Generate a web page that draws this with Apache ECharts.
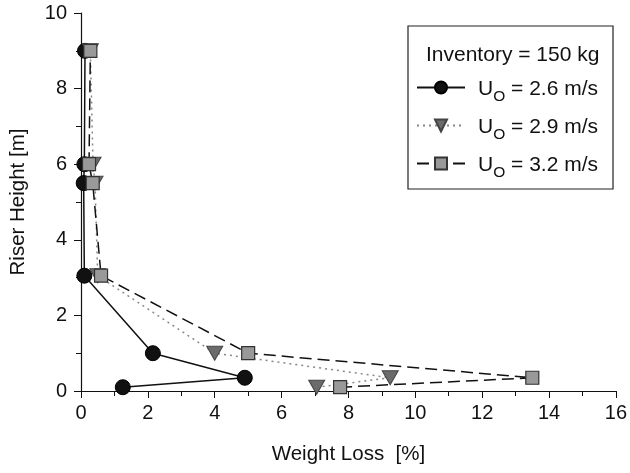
<!DOCTYPE html>
<html><head><meta charset="utf-8">
<script src="https://cdn.jsdelivr.net/npm/echarts@6/dist/echarts.min.js"></script>
<style>html,body{margin:0;padding:0;background:#fff}#c{width:630px;height:473px}</style>
</head><body><div id="c"></div>
<script>
const heights = [0.1, 0.35, 1.0, 3.05, 5.5, 6.0, 9.0];
const loss26 = [1.25, 4.9, 2.15, 0.1, 0.08, 0.1, 0.12];
const loss29 = [7.05, 9.25, 4.0, 0.5, 0.42, 0.36, 0.28];
const loss32 = [7.75, 13.5, 5.0, 0.6, 0.35, 0.24, 0.28];
const seriesNames = ['U = 2.6 m/s', 'U = 2.9 m/s', 'U = 3.2 m/s'];
const xTicks = [0, 2, 4, 6, 8, 10, 12, 14, 16];
const yTicks = [0, 2, 4, 6, 8, 10];

const font = 'Liberation Sans, Arial, sans-serif';
const pairs = arr => arr.map((v, i) => [v, heights[i]]);

const chart = echarts.init(document.getElementById('c'));
chart.setOption({
  animation: false,
  backgroundColor: '#fff',
  grid: { left: 80, right: 10, top: 13, bottom: 82 },
  title: {
    text: 'Inventory = 150 kg', left: 421, top: 40,
    textStyle: { fontFamily: font, fontSize: 21, fontWeight: 'normal', color: '#111' }
  },
  legend: {
    orient: 'vertical', left: 408, top: 26,
    padding: [53, 15, 8, 8],
    itemGap: 12, itemWidth: 48, itemHeight: 15,
    borderColor: '#222', borderWidth: 1.2, borderRadius: 0,
    data: seriesNames,
    formatter: function (name) {
      const rest = name.replace('U', '');
      return '{u|U}{s|O}{t|' + rest + '}';
    },
    textStyle: {
      fontFamily: font, fontSize: 21, color: '#111',
      rich: {
        u: { fontFamily: font, fontSize: 21, color: '#111', verticalAlign: 'bottom', lineHeight: 25, padding: [0, 0, 0, 8] },
        s: { fontFamily: font, fontSize: 15.5, color: '#111', verticalAlign: 'bottom', lineHeight: 25, padding: [0, 0, -5, 0] },
        t: { fontFamily: font, fontSize: 21, color: '#111', verticalAlign: 'bottom', lineHeight: 25 }
      }
    }
  },
  xAxis: {
    type: 'value', min: 0, max: 16, interval: 2,
    name: 'Weight Loss  [%]', nameLocation: 'middle', nameGap: 53,
    nameTextStyle: { fontFamily: font, fontSize: 20.5, color: '#111' },
    axisLine: { show: true, lineStyle: { color: '#111', width: 1.2 } },
    axisTick: { show: true, length: 7, lineStyle: { color: '#111' } },
    minorTick: { show: true, splitNumber: 2, length: 5, lineStyle: { color: '#111' } },
    splitLine: { show: false },
    axisLabel: { fontFamily: font, fontSize: 20, color: '#111', margin: 12,
      formatter: v => xTicks.includes(v) ? String(v) : '' }
  },
  yAxis: {
    type: 'value', min: 0, max: 10, interval: 2,
    name: 'Riser Height [m]', nameLocation: 'middle', nameGap: 52,
    nameTextStyle: { fontFamily: font, fontSize: 20.5, color: '#111' },
    axisLine: { show: true, lineStyle: { color: '#111', width: 1.2 } },
    axisTick: { show: true, length: 7, lineStyle: { color: '#111' } },
    minorTick: { show: true, splitNumber: 2, length: 5, lineStyle: { color: '#111' } },
    splitLine: { show: false },
    axisLabel: { fontFamily: font, fontSize: 20, color: '#111', margin: 14,
      formatter: v => yTicks.includes(v) ? String(v) : '' }
  },
  series: [
    {
      name: seriesNames[0], type: 'line', data: pairs(loss26),
      symbol: 'circle', symbolSize: 15,
      itemStyle: { color: '#111', borderColor: '#000', borderWidth: 1 },
      lineStyle: { color: '#111', width: 1.5, type: 'solid' }
    },
    {
      name: seriesNames[1], type: 'line', data: pairs(loss29),
      symbol: 'triangle', symbolSize: [16, 14], symbolRotate: 180,
      itemStyle: { color: '#6b6b6b', borderColor: '#444', borderWidth: 1 },
      lineStyle: { color: '#888', width: 1.5, type: [2, 4] }
    },
    {
      name: seriesNames[2], type: 'line', data: pairs(loss32),
      symbol: 'rect', symbolSize: 13,
      itemStyle: { color: '#999', borderColor: '#333', borderWidth: 1.2 },
      lineStyle: { color: '#111', width: 1.5, type: [12, 6] }
    }
  ]
});
</script></body></html>
